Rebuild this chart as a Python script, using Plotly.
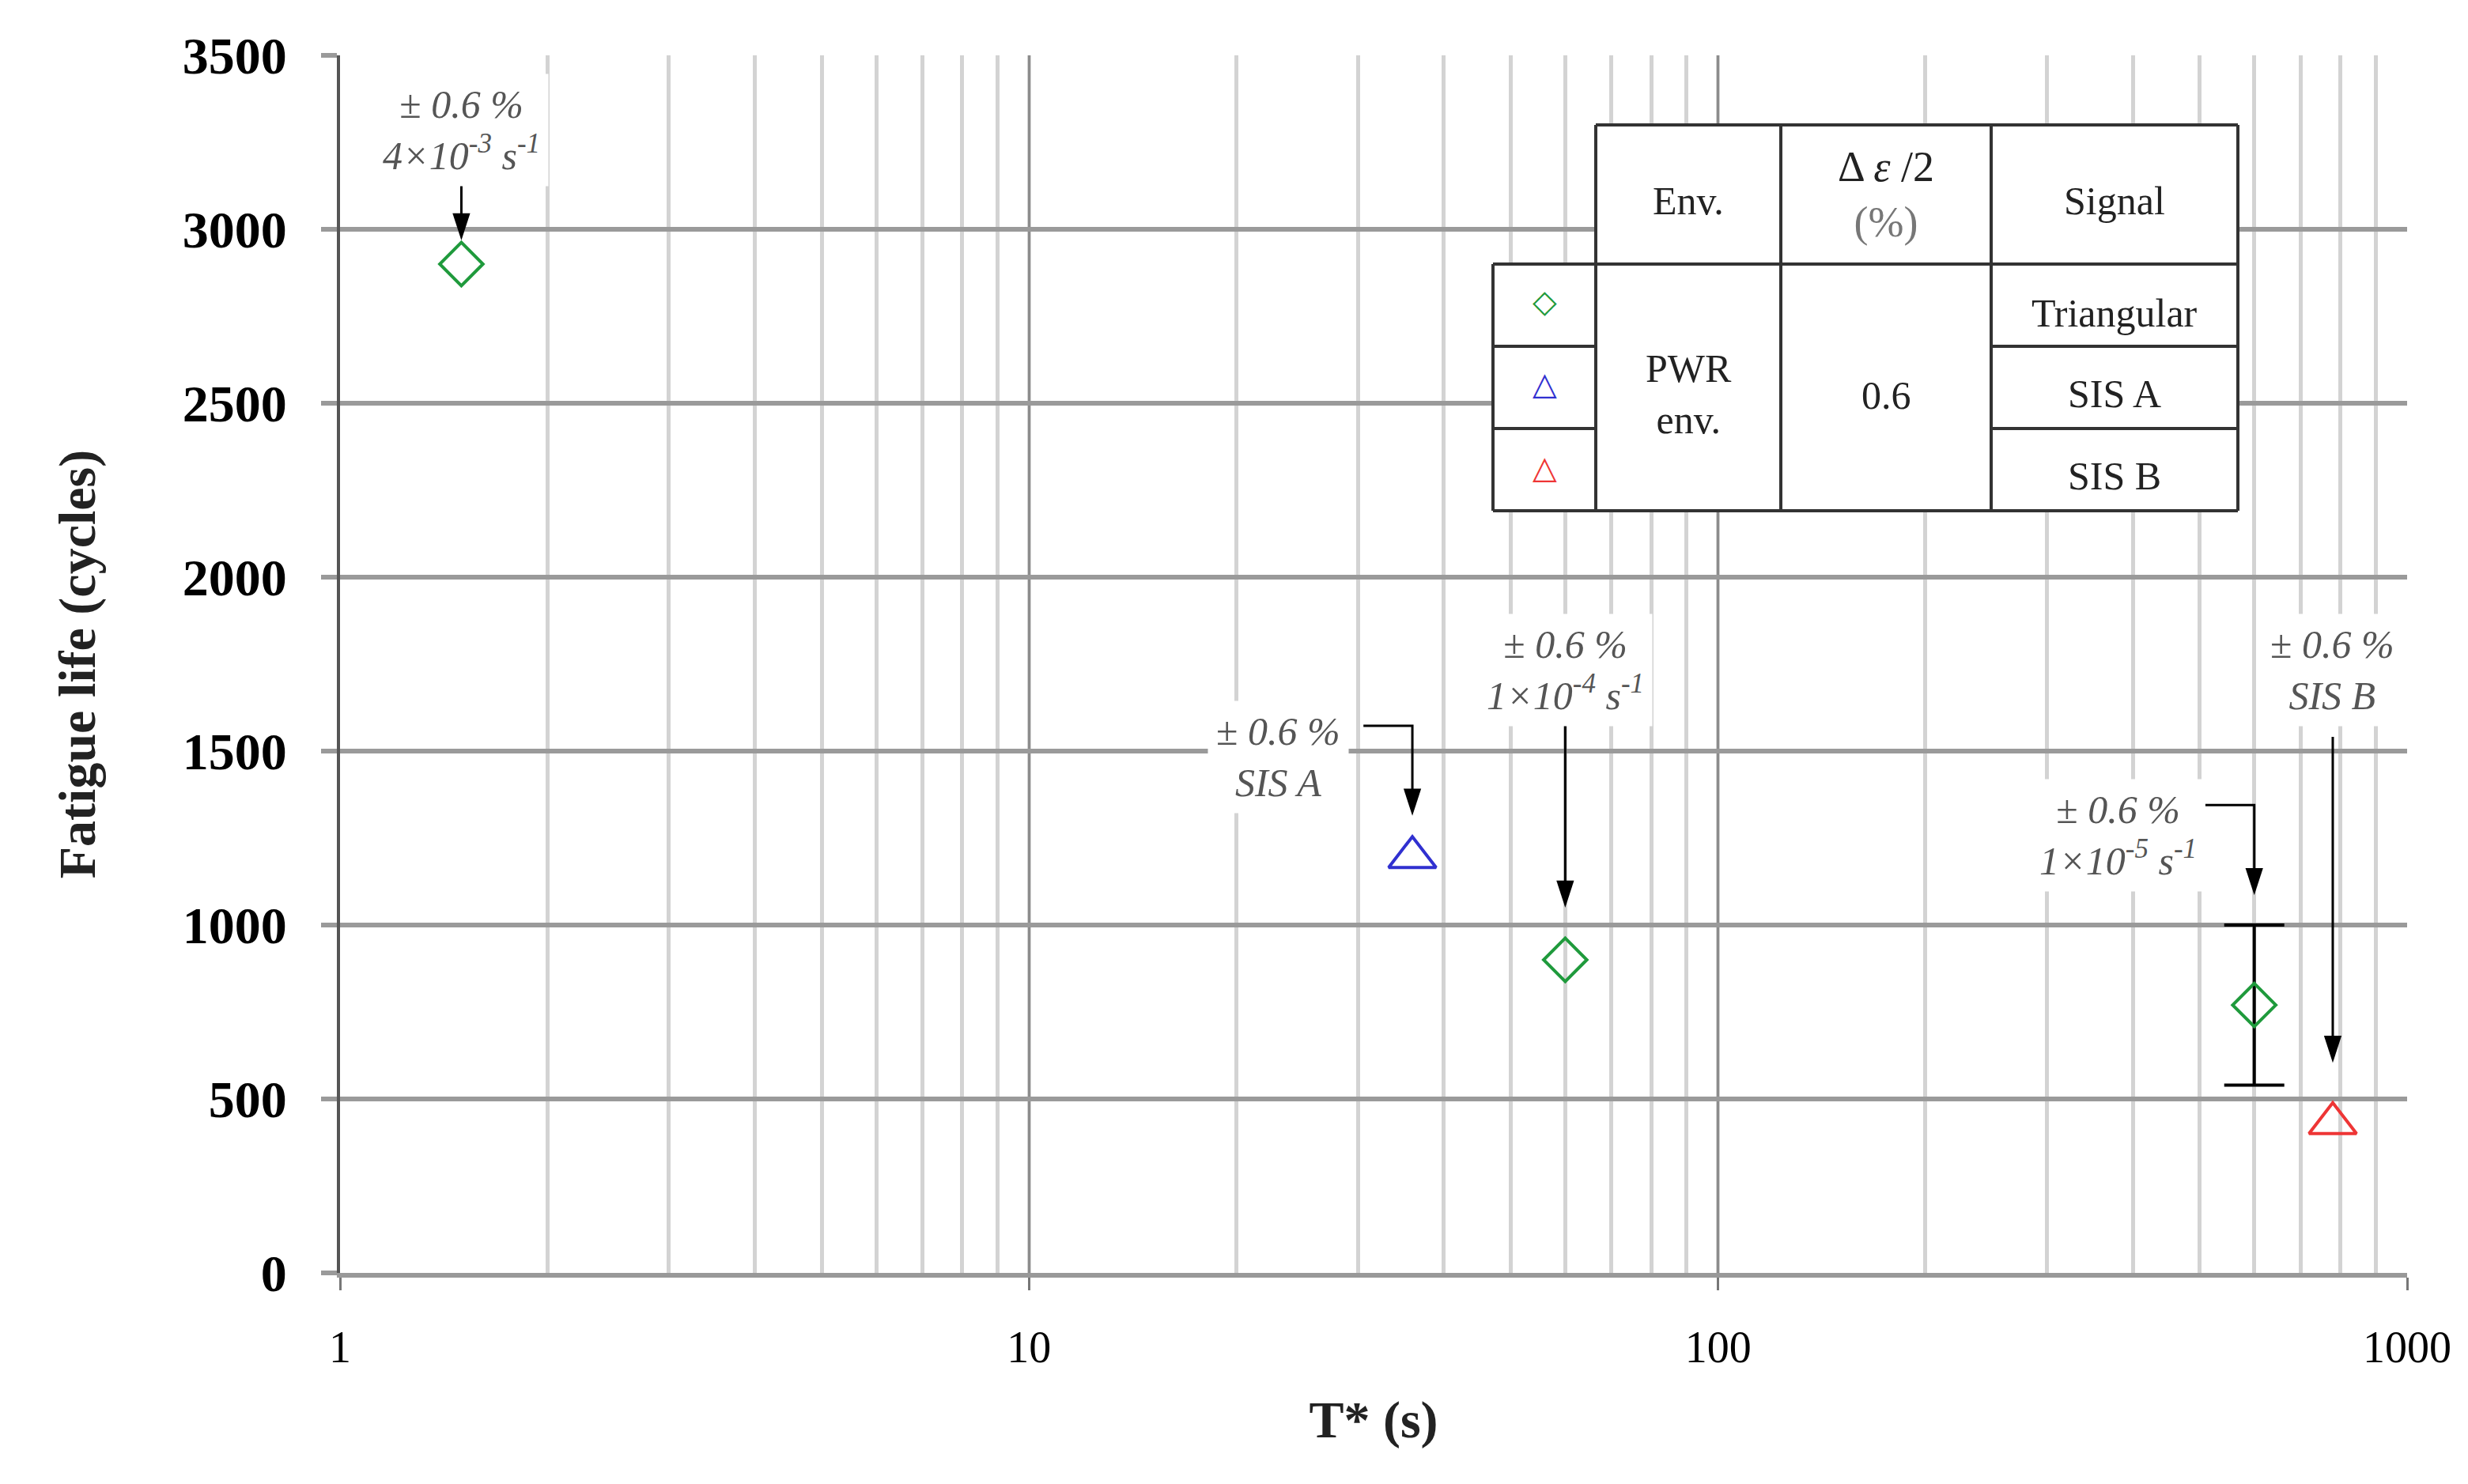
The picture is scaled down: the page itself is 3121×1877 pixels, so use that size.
import numpy as np
import plotly.graph_objects as go

# data
t_triangular = [1.5, 60, 600]
n_triangular = [2900, 900, 770]
err_triangular = [0, 0, 230]

t_sis_a = [36]
n_sis_a = [1195]

t_sis_b = [780]
n_sis_b = [430]

y_ticks = [0, 500, 1000, 1500, 2000, 2500, 3000, 3500]
x_ticks = [1, 10, 100, 1000]

label_texts = [
    "± <i>0.6 %</i><br><i>4×10<sup>-3</sup> s<sup>-1</sup></i>",
    "± <i>0.6 %</i><br><i>SIS A</i>",
    "± <i>0.6 %</i><br><i>1×10<sup>-4</sup> s<sup>-1</sup></i>",
    "± <i>0.6 %</i><br><i>1×10<sup>-5</sup> s<sup>-1</sup></i>",
    "± <i>0.6 %</i><br><i>SIS B</i>",
]
label_targets = [
    (t_triangular[0], n_triangular[0]),
    (t_sis_a[0], n_sis_a[0]),
    (t_triangular[1], n_triangular[1]),
    (t_triangular[2], n_triangular[2]),
    (t_sis_b[0], n_sis_b[0]),
]

GREEN = "#1f9a3c"
BLUE = "#3030d0"
RED = "#ee3535"
FONT = "Liberation Serif"

fig = go.Figure()

# error bar only where a scatter was measured
err_idx = [i for i, e in enumerate(err_triangular) if e > 0]
fig.add_trace(go.Scatter(
    x=[t_triangular[i] for i in err_idx], y=[n_triangular[i] for i in err_idx],
    mode="markers", marker=dict(size=1, color="rgba(0,0,0,0)"),
    error_y=dict(type="data", array=[err_triangular[i] for i in err_idx],
                 color="black", thickness=4, width=38),
    showlegend=False, hoverinfo="skip",
))
fig.add_trace(go.Scatter(
    x=t_triangular, y=n_triangular, mode="markers",
    marker=dict(symbol="diamond-open", size=42, color=GREEN, line=dict(width=4, color=GREEN)),
    showlegend=False,
))
fig.add_trace(go.Scatter(
    x=t_sis_a, y=n_sis_a, mode="markers",
    marker=dict(symbol="triangle-up-open", size=52, color=BLUE, line=dict(width=4, color=BLUE)),
    showlegend=False,
))
fig.add_trace(go.Scatter(
    x=t_sis_b, y=n_sis_b, mode="markers",
    marker=dict(symbol="triangle-up-open", size=52, color=RED, line=dict(width=4, color=RED)),
    showlegend=False,
))

# label layout: (text dx in decades, text dy, elbow dx or None, elbow/tail dy, tip dy)
label_layout = [
    (0.0, 386, None, 231, 68),
    (-0.195, 287, -0.071, 378, 119),
    (0.0, 832, None, 686, 150),
    (-0.198, 489, -0.071, 575, 316),
    (0.0, 1302, None, 1111, 174),
]

annotations = []
for text, (tx, ty), (dx, dy, edx, tail, tip) in zip(label_texts, label_targets, label_layout):
    lx = np.log10(tx)
    annotations.append(dict(
        x=lx + dx, y=ty + dy, xref="x", yref="y", text=text, showarrow=False,
        xanchor="center", yanchor="middle",
        font=dict(family=FONT, size=50, color="#555555"), bgcolor="white", borderpad=10,
        align="center",
    ))
    xs, ys = [tx, tx], [ty + tail, ty + tip + 25]
    if edx is not None:
        xs = [10 ** (lx + edx)] + xs
        ys = [ty + tail] + ys
    fig.add_trace(go.Scatter(
        x=xs, y=ys, mode="lines", line=dict(color="black", width=3),
        showlegend=False, hoverinfo="skip",
    ))
    # arrow symbol has its tip on the data point
    fig.add_trace(go.Scatter(
        x=[tx], y=[ty + tip], mode="markers",
        marker=dict(symbol="arrow", angle=180, size=36, color="black", line=dict(width=0)),
        showlegend=False, hoverinfo="skip",
    ))

# table in paper coords (pixel positions converted)
W, H = 3121, 1877
L, R, T, B = 422, 3036, 62, 1602


def px(x):
    return (x - L) / (R - L)


def py(y):
    return (B - y) / (B - T)


cols = [1880, 2010, 2244, 2510, 2822]
rows = [150, 326, 430, 534, 638]
shapes = []
shapes.append(dict(type="rect", xref="paper", yref="paper", x0=px(cols[1]), x1=px(cols[4]),
                   y0=py(rows[0]), y1=py(rows[1]), fillcolor="white", line=dict(width=0), layer="above"))
shapes.append(dict(type="rect", xref="paper", yref="paper", x0=px(cols[0]), x1=px(cols[4]),
                   y0=py(rows[1]), y1=py(rows[4]), fillcolor="white", line=dict(width=0), layer="above"))


def seg(x0, y0, x1, y1):
    shapes.append(dict(type="line", xref="paper", yref="paper", x0=px(x0), x1=px(x1),
                       y0=py(y0), y1=py(y1), line=dict(color="#333333", width=4), layer="above"))


seg(cols[1], rows[0], cols[4], rows[0])
seg(cols[0], rows[1], cols[4], rows[1])
seg(cols[0], rows[4], cols[4], rows[4])
for r in rows[2:4]:
    seg(cols[0], r, cols[1], r)
    seg(cols[3], r, cols[4], r)
seg(cols[0], rows[1], cols[0], rows[4])
for c in cols[1:]:
    seg(c, rows[0], c, rows[4])


def cell(x, y, text, size=50, color="#222222"):
    annotations.append(dict(x=px(x), y=py(y), xref="paper", yref="paper", text=text,
                            xanchor="center", yanchor="middle", align="center",
                            showarrow=False, font=dict(family=FONT, size=size, color=color)))


mid = [(cols[i] + cols[i + 1]) / 2 for i in range(4)]
cell(mid[1], 246, "Env.")
cell(mid[2], 238, "Δ <i>ε</i> /2<br><span style='color:#777777'>(%)</span>", 54)
cell(mid[3], 246, "Signal")
cell(mid[3], 388, "Triangular")
cell(mid[3], 490, "SIS A")
cell(mid[3], 594, "SIS B")
cell(mid[1], 490, "PWR<br>env.")
cell(mid[2], 492, "0.6")
cell(mid[0], 374, "◇", 40, GREEN)
cell(mid[0], 478, "△", 40, BLUE)
cell(mid[0], 584, "△", 40, RED)

fig.update_layout(
    width=W, height=H,
    margin=dict(l=L, r=W - R, t=T, b=H - B),
    plot_bgcolor="white", paper_bgcolor="white",
    annotations=annotations, shapes=shapes,
    font=dict(family=FONT, color="black"),
)
fig.update_xaxes(
    type="log", range=[0, 3], tickvals=x_ticks, ticktext=[str(v) for v in x_ticks],
    showgrid=True, gridcolor="#8c8c8c", gridwidth=3,
    minor=dict(dtick="D1", showgrid=True, gridcolor="#d3d3d3", gridwidth=5, ticks=""),
    ticks="outside", ticklen=16, tickwidth=3, tickcolor="#777777",
    showline=True, linecolor="#999999", linewidth=6, mirror=False, zeroline=False,
    tickfont=dict(family=FONT, size=56, color="black"), ticklabelstandoff=24,
    title=dict(text="<b>T* (s)</b>", font=dict(family=FONT, size=66, color="#222222"), standoff=40),
)
fig.update_yaxes(
    range=[0, 3500], tickvals=y_ticks, showgrid=True, gridcolor="#9a9a9a", gridwidth=6,
    ticks="outside", ticklen=20, tickwidth=6, tickcolor="#9a9a9a", zeroline=False,
    showline=True, linecolor="#555555", linewidth=4,
    tickfont=dict(family=FONT, size=66, color="black", weight="bold"), ticklabelstandoff=30,
    title=dict(text="<b>Fatigue life (cycles)</b>", font=dict(family=FONT, size=66, color="#222222"), standoff=90),
)

fig.write_html("out.html")
